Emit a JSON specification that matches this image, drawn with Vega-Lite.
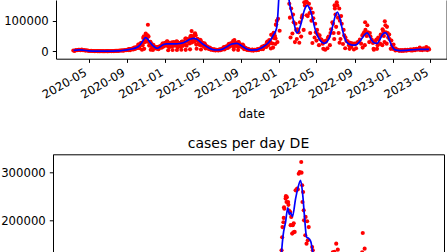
{
"$schema": "https://vega.github.io/schema/vega-lite/v6.json",
"usermeta": {"embedOptions": {"actions": false}},
"padding": 0,
"autosize": {"type": "pad"},
"background": "white",
"bounds": "flush",
"spacing": 95.3,
"config": {
  "font": "DejaVu Sans",
  "axis": {"labelFont": "DejaVu Sans", "labelFontSize": 11.7, "labelColor": "black", "tickColor": "black", "tickSize": 3.7, "tickWidth": 1, "domainColor": "black", "domainWidth": 1, "labelPadding": 4, "grid": false, "titleFont": "DejaVu Sans", "titleFontSize": 11.7, "titleFontWeight": "normal", "titleColor": "black"},
  "title": {"font": "DejaVu Sans", "fontSize": 14, "fontWeight": "normal", "color": "black"}
},
"datasets": {
"fr_daily": [
{"date":"2020-03-13","cases":2800},{"date":"2020-03-17","cases":1100},{"date":"2020-03-21","cases":3900},{"date":"2020-03-25","cases":3400},{"date":"2020-03-29","cases":4600},
{"date":"2020-04-01","cases":5200},{"date":"2020-04-05","cases":3400},{"date":"2020-04-09","cases":5600},{"date":"2020-04-13","cases":3300},{"date":"2020-04-17","cases":3700},{"date":"2020-04-21","cases":2200},{"date":"2020-04-25","cases":3300},{"date":"2020-04-29","cases":1700},
{"date":"2020-05-01","cases":1700},{"date":"2020-05-05","cases":1000},{"date":"2020-05-09","cases":1500},{"date":"2020-05-13","cases":900},{"date":"2020-05-17","cases":850},{"date":"2020-05-21","cases":500},{"date":"2020-05-25","cases":900},{"date":"2020-05-29","cases":500},
{"date":"2020-06-01","cases":600},{"date":"2020-06-05","cases":380},{"date":"2020-06-09","cases":650},{"date":"2020-06-13","cases":450},{"date":"2020-06-17","cases":520},{"date":"2020-06-21","cases":330},{"date":"2020-06-25","cases":630},{"date":"2020-06-29","cases":430},
{"date":"2020-07-01","cases":700},{"date":"2020-07-05","cases":480},{"date":"2020-07-09","cases":900},{"date":"2020-07-13","cases":700},{"date":"2020-07-17","cases":900},{"date":"2020-07-21","cases":650},{"date":"2020-07-25","cases":1500},{"date":"2020-07-29","cases":1200},
{"date":"2020-08-01","cases":1700},{"date":"2020-08-05","cases":1300},{"date":"2020-08-09","cases":2500},{"date":"2020-08-13","cases":2200},{"date":"2020-08-17","cases":2900},{"date":"2020-08-21","cases":2100},{"date":"2020-08-25","cases":4400},{"date":"2020-08-29","cases":3400},
{"date":"2020-09-01","cases":5200},{"date":"2020-09-05","cases":4000},{"date":"2020-09-09","cases":7500},{"date":"2020-09-13","cases":6500},{"date":"2020-09-17","cases":8500},{"date":"2020-09-21","cases":5800},{"date":"2020-09-25","cases":12500},{"date":"2020-09-29","cases":9800},
{"date":"2020-10-01","cases":13800},{"date":"2020-10-05","cases":10900},{"date":"2020-10-09","cases":22000},{"date":"2020-10-13","cases":19500},{"date":"2020-10-17","cases":28000},{"date":"2020-10-19","cases":5000},{"date":"2020-10-21","cases":20000},{"date":"2020-10-25","cases":49000},{"date":"2020-10-26","cases":8000},{"date":"2020-10-29","cases":37000},{"date":"2020-10-31","cases":58000},
{"date":"2020-11-01","cases":50500},{"date":"2020-11-05","cases":31000},{"date":"2020-11-07","cases":86800},{"date":"2020-11-09","cases":48000},{"date":"2020-11-13","cases":27500},{"date":"2020-11-16","cases":5000},{"date":"2020-11-17","cases":26000},{"date":"2020-11-21","cases":13000},{"date":"2020-11-23","cases":4500},{"date":"2020-11-25","cases":20000},{"date":"2020-11-29","cases":11000},
{"date":"2020-12-01","cases":13800},{"date":"2020-12-05","cases":8200},{"date":"2020-12-09","cases":13600},{"date":"2020-12-13","cases":11700},{"date":"2020-12-17","cases":16300},{"date":"2020-12-21","cases":11700},{"date":"2020-12-25","cases":26000},{"date":"2020-12-29","cases":19000},
{"date":"2021-01-01","cases":28000},{"date":"2021-01-05","cases":18000},{"date":"2021-01-09","cases":31500},{"date":"2021-01-11","cases":3600},{"date":"2021-01-13","cases":21600},{"date":"2021-01-17","cases":25500},{"date":"2021-01-21","cases":15600},{"date":"2021-01-25","cases":4200},{"date":"2021-01-29","cases":30000},{"date":"2021-01-31","cases":20400},
{"date":"2021-02-01","cases":27600},{"date":"2021-02-05","cases":18000},{"date":"2021-02-08","cases":4300},{"date":"2021-02-09","cases":31200},{"date":"2021-02-13","cases":21600},{"date":"2021-02-17","cases":26800},{"date":"2021-02-21","cases":16500},{"date":"2021-02-22","cases":4900},{"date":"2021-02-25","cases":32000},{"date":"2021-02-28","cases":22000},
{"date":"2021-03-01","cases":32200},{"date":"2021-03-05","cases":22500},{"date":"2021-03-08","cases":4800},{"date":"2021-03-09","cases":42000},{"date":"2021-03-13","cases":31500},{"date":"2021-03-17","cases":38800},{"date":"2021-03-21","cases":25400},{"date":"2021-03-22","cases":6400},{"date":"2021-03-25","cases":51000},{"date":"2021-03-27","cases":66000},{"date":"2021-03-29","cases":35700},
{"date":"2021-04-01","cases":48900},{"date":"2021-04-05","cases":31500},{"date":"2021-04-07","cases":59000},{"date":"2021-04-09","cases":52600},{"date":"2021-04-12","cases":8500},{"date":"2021-04-13","cases":35100},{"date":"2021-04-17","cases":37800},{"date":"2021-04-21","cases":21100},{"date":"2021-04-25","cases":36300},{"date":"2021-04-26","cases":6000},{"date":"2021-04-29","cases":22500},
{"date":"2021-05-01","cases":27600},{"date":"2021-05-05","cases":15400},{"date":"2021-05-09","cases":22700},{"date":"2021-05-13","cases":14000},{"date":"2021-05-17","cases":14700},{"date":"2021-05-21","cases":7500},{"date":"2021-05-25","cases":11200},{"date":"2021-05-29","cases":6000},
{"date":"2021-06-01","cases":6900},{"date":"2021-06-05","cases":3800},{"date":"2021-06-09","cases":5800},{"date":"2021-06-13","cases":3800},{"date":"2021-06-17","cases":4400},{"date":"2021-06-21","cases":2900},{"date":"2021-06-25","cases":6200},{"date":"2021-06-29","cases":4900},
{"date":"2021-07-01","cases":7500},{"date":"2021-07-05","cases":6000},{"date":"2021-07-09","cases":13600},{"date":"2021-07-13","cases":11700},{"date":"2021-07-17","cases":15800},{"date":"2021-07-21","cases":11000},{"date":"2021-07-25","cases":24400},{"date":"2021-07-29","cases":18700},
{"date":"2021-08-01","cases":27000},{"date":"2021-08-05","cases":18400},{"date":"2021-08-09","cases":5500},{"date":"2021-08-11","cases":37000},{"date":"2021-08-13","cases":23400},{"date":"2021-08-17","cases":27300},{"date":"2021-08-21","cases":16300},{"date":"2021-08-23","cases":4500},{"date":"2021-08-25","cases":29400},{"date":"2021-08-29","cases":18300},
{"date":"2021-09-01","cases":22400},{"date":"2021-09-05","cases":12700},{"date":"2021-09-09","cases":18800},{"date":"2021-09-13","cases":10800},{"date":"2021-09-17","cases":10000},{"date":"2021-09-21","cases":4500},{"date":"2021-09-25","cases":7500},{"date":"2021-09-29","cases":4200},
{"date":"2021-10-01","cases":5000},{"date":"2021-10-05","cases":3000},{"date":"2021-10-09","cases":5200},{"date":"2021-10-13","cases":3800},{"date":"2021-10-17","cases":4700},{"date":"2021-10-21","cases":3300},{"date":"2021-10-25","cases":7500},{"date":"2021-10-29","cases":5800},
{"date":"2021-11-01","cases":8600},{"date":"2021-11-05","cases":7100},{"date":"2021-11-09","cases":15600},{"date":"2021-11-13","cases":12600},{"date":"2021-11-17","cases":18400},{"date":"2021-11-21","cases":14000},{"date":"2021-11-25","cases":31900},{"date":"2021-11-29","cases":24200},
{"date":"2021-12-01","cases":36800},{"date":"2021-12-05","cases":27700},{"date":"2021-12-06","cases":9000},{"date":"2021-12-09","cases":54000},{"date":"2021-12-13","cases":12000},{"date":"2021-12-14","cases":44000},{"date":"2021-12-17","cases":60000},{"date":"2021-12-20","cases":24000},{"date":"2021-12-21","cases":42000},{"date":"2021-12-23","cases":88000},{"date":"2021-12-25","cases":100000},{"date":"2021-12-27","cases":30000},{"date":"2021-12-29","cases":106000},{"date":"2021-12-31","cases":206000},
{"date":"2022-01-01","cases":220000},{"date":"2022-01-03","cases":67000},{"date":"2022-01-05","cases":332000},{"date":"2022-01-09","cases":296000},{"date":"2022-01-13","cases":305000},{"date":"2022-01-17","cases":250000},{"date":"2022-01-21","cases":400000},{"date":"2022-01-25","cases":500000},{"date":"2022-01-29","cases":290000},
{"date":"2022-02-01","cases":200000},{"date":"2022-02-03","cases":155000},{"date":"2022-02-05","cases":110000},{"date":"2022-02-07","cases":45000},{"date":"2022-02-09","cases":140000},{"date":"2022-02-13","cases":58000},{"date":"2022-02-15","cases":120000},{"date":"2022-02-17","cases":95000},{"date":"2022-02-21","cases":30000},{"date":"2022-02-23","cases":90000},{"date":"2022-02-25","cases":70000},{"date":"2022-02-27","cases":40000},
{"date":"2022-03-01","cases":72000},{"date":"2022-03-03","cases":64000},{"date":"2022-03-05","cases":62000},{"date":"2022-03-07","cases":28000},{"date":"2022-03-09","cases":95000},{"date":"2022-03-13","cases":48000},{"date":"2022-03-15","cases":110000},{"date":"2022-03-17","cases":118000},{"date":"2022-03-21","cases":70000},{"date":"2022-03-23","cases":160000},{"date":"2022-03-25","cases":150000},{"date":"2022-03-29","cases":170000},{"date":"2022-03-31","cases":118000},
{"date":"2022-04-01","cases":160000},{"date":"2022-04-03","cases":115000},{"date":"2022-04-05","cases":180000},{"date":"2022-04-07","cases":155000},{"date":"2022-04-09","cases":125000},{"date":"2022-04-11","cases":60000},{"date":"2022-04-13","cases":140000},{"date":"2022-04-15","cases":100000},{"date":"2022-04-18","cases":27000},{"date":"2022-04-19","cases":126000},{"date":"2022-04-21","cases":108000},{"date":"2022-04-25","cases":45000},{"date":"2022-04-27","cases":90000},{"date":"2022-04-29","cases":62000},
{"date":"2022-05-01","cases":35000},{"date":"2022-05-03","cases":70000},{"date":"2022-05-05","cases":56000},{"date":"2022-05-09","cases":20000},{"date":"2022-05-11","cases":52000},{"date":"2022-05-13","cases":40000},{"date":"2022-05-17","cases":38000},{"date":"2022-05-21","cases":25000},{"date":"2022-05-23","cases":8000},{"date":"2022-05-25","cases":33000},{"date":"2022-05-29","cases":5000},{"date":"2022-05-31","cases":31000},
{"date":"2022-06-01","cases":35000},{"date":"2022-06-05","cases":10000},{"date":"2022-06-07","cases":44000},{"date":"2022-06-09","cases":48000},{"date":"2022-06-13","cases":20000},{"date":"2022-06-15","cases":60000},{"date":"2022-06-17","cases":72000},{"date":"2022-06-21","cases":95000},{"date":"2022-06-23","cases":90000},{"date":"2022-06-25","cases":60000},{"date":"2022-06-27","cases":40000},{"date":"2022-06-28","cases":150000},{"date":"2022-06-29","cases":140000},
{"date":"2022-07-01","cases":120000},{"date":"2022-07-03","cases":80000},{"date":"2022-07-05","cases":160000},{"date":"2022-07-06","cases":200000},{"date":"2022-07-07","cases":150000},{"date":"2022-07-09","cases":110000},{"date":"2022-07-11","cases":60000},{"date":"2022-07-13","cases":140000},{"date":"2022-07-14","cases":28000},{"date":"2022-07-15","cases":100000},{"date":"2022-07-17","cases":40000},{"date":"2022-07-19","cases":115000},{"date":"2022-07-21","cases":90000},{"date":"2022-07-25","cases":24000},{"date":"2022-07-27","cases":70000},{"date":"2022-07-29","cases":52000},
{"date":"2022-08-01","cases":10000},{"date":"2022-08-02","cases":45000},{"date":"2022-08-05","cases":34000},{"date":"2022-08-09","cases":33000},{"date":"2022-08-13","cases":20000},{"date":"2022-08-15","cases":8000},{"date":"2022-08-17","cases":28000},{"date":"2022-08-21","cases":14000},{"date":"2022-08-23","cases":26000},{"date":"2022-08-25","cases":23000},{"date":"2022-08-29","cases":6000},{"date":"2022-08-31","cases":25000},
{"date":"2022-09-01","cases":23000},{"date":"2022-09-05","cases":10000},{"date":"2022-09-09","cases":29000},{"date":"2022-09-13","cases":31000},{"date":"2022-09-17","cases":38000},{"date":"2022-09-21","cases":25000},{"date":"2022-09-25","cases":52000},{"date":"2022-09-26","cases":12000},{"date":"2022-09-29","cases":58000},
{"date":"2022-10-01","cases":62000},{"date":"2022-10-03","cases":20000},{"date":"2022-10-04","cases":95000},{"date":"2022-10-05","cases":70000},{"date":"2022-10-09","cases":50000},{"date":"2022-10-11","cases":85000},{"date":"2022-10-13","cases":62000},{"date":"2022-10-17","cases":30000},{"date":"2022-10-19","cases":60000},{"date":"2022-10-21","cases":48000},{"date":"2022-10-25","cases":38000},{"date":"2022-10-29","cases":27000},{"date":"2022-10-31","cases":8000},
{"date":"2022-11-01","cases":5000},{"date":"2022-11-03","cases":33000},{"date":"2022-11-05","cases":30000},{"date":"2022-11-09","cases":38000},{"date":"2022-11-11","cases":8000},{"date":"2022-11-13","cases":20000},{"date":"2022-11-15","cases":45000},{"date":"2022-11-17","cases":40000},{"date":"2022-11-21","cases":25000},{"date":"2022-11-23","cases":55000},{"date":"2022-11-25","cases":52000},{"date":"2022-11-28","cases":20000},{"date":"2022-11-29","cases":72000},
{"date":"2022-12-01","cases":65000},{"date":"2022-12-03","cases":50000},{"date":"2022-12-05","cases":30000},{"date":"2022-12-06","cases":98000},{"date":"2022-12-08","cases":85000},{"date":"2022-12-09","cases":62000},{"date":"2022-12-12","cases":25000},{"date":"2022-12-13","cases":80000},{"date":"2022-12-15","cases":60000},{"date":"2022-12-17","cases":45000},{"date":"2022-12-20","cases":55000},{"date":"2022-12-21","cases":40000},{"date":"2022-12-25","cases":8000},{"date":"2022-12-27","cases":35000},{"date":"2022-12-29","cases":20000},
{"date":"2023-01-01","cases":8000},{"date":"2023-01-03","cases":22000},{"date":"2023-01-05","cases":10000},{"date":"2023-01-09","cases":3000},{"date":"2023-01-10","cases":9000},{"date":"2023-01-13","cases":4500},{"date":"2023-01-17","cases":4800},{"date":"2023-01-21","cases":1500},{"date":"2023-01-25","cases":3800},{"date":"2023-01-29","cases":1200},
{"date":"2023-02-01","cases":4000},{"date":"2023-02-05","cases":1500},{"date":"2023-02-09","cases":4500},{"date":"2023-02-13","cases":2000},{"date":"2023-02-17","cases":4800},{"date":"2023-02-21","cases":3500},{"date":"2023-02-25","cases":6000},{"date":"2023-02-28","cases":3000},
{"date":"2023-03-01","cases":6000},{"date":"2023-03-05","cases":2500},{"date":"2023-03-09","cases":7500},{"date":"2023-03-13","cases":3500},{"date":"2023-03-17","cases":8000},{"date":"2023-03-21","cases":5500},{"date":"2023-03-25","cases":8500},{"date":"2023-03-28","cases":12000},{"date":"2023-03-29","cases":4500},
{"date":"2023-04-01","cases":8000},{"date":"2023-04-05","cases":4000},{"date":"2023-04-09","cases":9500},{"date":"2023-04-13","cases":5000},{"date":"2023-04-17","cases":8500},{"date":"2023-04-18","cases":14000},{"date":"2023-04-21","cases":4000},{"date":"2023-04-25","cases":10000},{"date":"2023-04-27","cases":6000},
{"date":"2020-09-03","cases":4700},{"date":"2020-09-07","cases":7700},{"date":"2020-09-11","cases":3700},{"date":"2020-09-15","cases":8300},{"date":"2020-09-19","cases":6900},{"date":"2020-09-23","cases":11600},{"date":"2020-09-27","cases":7600},
{"date":"2020-10-03","cases":12600},{"date":"2020-10-07","cases":21600},{"date":"2020-10-11","cases":10500},{"date":"2020-10-15","cases":26400},{"date":"2020-10-20","cases":23600},{"date":"2020-10-23","cases":43800},{"date":"2020-10-27","cases":29400},
{"date":"2020-11-03","cases":39900},{"date":"2020-11-06","cases":52600},{"date":"2020-11-11","cases":18700},{"date":"2020-11-15","cases":30800},{"date":"2020-11-19","cases":18000},{"date":"2020-11-22","cases":21600},{"date":"2020-11-27","cases":10200},
{"date":"2020-12-03","cases":10900},{"date":"2020-12-07","cases":13900},{"date":"2020-12-11","cases":6600},{"date":"2020-12-15","cases":16000},{"date":"2020-12-19","cases":13600},{"date":"2020-12-23","cases":23400},{"date":"2020-12-27","cases":15400},
{"date":"2021-01-03","cases":23300},{"date":"2021-01-07","cases":33000},{"date":"2021-01-14","cases":13500},{"date":"2021-01-15","cases":27000},{"date":"2021-01-19","cases":19600},{"date":"2021-01-23","cases":29400},{"date":"2021-01-27","cases":17200},
{"date":"2021-02-03","cases":23300},{"date":"2021-02-07","cases":33000},{"date":"2021-02-11","cases":13500},{"date":"2021-02-15","cases":27000},{"date":"2021-02-19","cases":19600},{"date":"2021-02-23","cases":30600},{"date":"2021-02-27","cases":17900},
{"date":"2021-03-03","cases":27100},{"date":"2021-03-07","cases":41900},{"date":"2021-03-11","cases":18400},{"date":"2021-03-15","cases":39000},{"date":"2021-03-19","cases":30400},{"date":"2021-03-23","cases":48000},{"date":"2021-03-28","cases":29000},
{"date":"2021-04-03","cases":40200},{"date":"2021-04-06","cases":56000},{"date":"2021-04-11","cases":21900},{"date":"2021-04-15","cases":41200},{"date":"2021-04-19","cases":27200},{"date":"2021-04-23","cases":37200},{"date":"2021-04-27","cases":19300},
{"date":"2021-05-03","cases":21900},{"date":"2021-05-07","cases":26300},{"date":"2021-05-11","cases":9400},{"date":"2021-05-15","cases":16500},{"date":"2021-05-19","cases":10000},{"date":"2021-05-23","cases":12000},{"date":"2021-05-27","cases":5600},
{"date":"2021-06-03","cases":4800},{"date":"2021-06-07","cases":6800},{"date":"2021-06-11","cases":2500},{"date":"2021-06-15","cases":4600},{"date":"2021-06-19","cases":3400},{"date":"2021-06-23","cases":5000},{"date":"2021-06-27","cases":3500},
{"date":"2021-07-03","cases":6700},{"date":"2021-07-07","cases":12200},{"date":"2021-07-11","cases":6300},{"date":"2021-07-15","cases":15400},{"date":"2021-07-19","cases":12800},{"date":"2021-07-23","cases":22200},{"date":"2021-07-27","cases":14700},
{"date":"2021-08-03","cases":23000},{"date":"2021-08-07","cases":33500},{"date":"2021-08-10","cases":13800},{"date":"2021-08-15","cases":28600},{"date":"2021-08-19","cases":20800},{"date":"2021-08-24","cases":30000},{"date":"2021-08-27","cases":16100},
{"date":"2021-09-03","cases":17600},{"date":"2021-09-07","cases":21600},{"date":"2021-09-11","cases":7200},{"date":"2021-09-15","cases":11600},{"date":"2021-09-19","cases":6400},{"date":"2021-09-23","cases":7800},{"date":"2021-09-27","cases":3900},
{"date":"2021-10-03","cases":4000},{"date":"2021-10-07","cases":5700},{"date":"2021-10-11","cases":2300},{"date":"2021-10-15","cases":4600},{"date":"2021-10-19","cases":3400},{"date":"2021-10-23","cases":6000},{"date":"2021-10-27","cases":4200},
{"date":"2021-11-03","cases":8100},{"date":"2021-11-07","cases":14200},{"date":"2021-11-11","cases":7200},{"date":"2021-11-15","cases":17600},{"date":"2021-11-19","cases":15600},{"date":"2021-11-23","cases":28200},{"date":"2021-11-27","cases":18900},
{"date":"2021-12-03","cases":33300},{"date":"2021-12-07","cases":54000},{"date":"2021-12-11","cases":25300},{"date":"2021-12-15","cases":60500},{"date":"2021-12-19","cases":49600},{"date":"2021-12-22","cases":86400}
],
"fr_trend": [
{"date":"2020-03-14","trend":3000},{"date":"2020-04-01","trend":4500},{"date":"2020-04-15","trend":3500},{"date":"2020-05-01","trend":1500},{"date":"2020-05-15","trend":800},{"date":"2020-06-01","trend":500},{"date":"2020-07-01","trend":600},{"date":"2020-08-01","trend":1500},{"date":"2020-08-15","trend":2500},{"date":"2020-09-01","trend":4500},{"date":"2020-09-15","trend":7500},{"date":"2020-10-01","trend":12000},{"date":"2020-10-10","trend":18000},{"date":"2020-10-18","trend":28000},{"date":"2020-10-24","trend":38000},{"date":"2020-10-31","trend":44500},{"date":"2020-11-07","trend":39000},{"date":"2020-11-14","trend":29000},{"date":"2020-11-21","trend":20000},{"date":"2020-12-01","trend":12000},{"date":"2020-12-08","trend":10000},{"date":"2020-12-16","trend":15000},{"date":"2020-12-27","trend":22000},
{"date":"2021-01-06","trend":24500},{"date":"2021-01-20","trend":24000},{"date":"2021-02-05","trend":24000},{"date":"2021-02-18","trend":25500},{"date":"2021-03-01","trend":28000},{"date":"2021-03-12","trend":34000},{"date":"2021-03-23","trend":40000},{"date":"2021-04-02","trend":42500},{"date":"2021-04-13","trend":39000},{"date":"2021-04-29","trend":26000},{"date":"2021-05-15","trend":15000},{"date":"2021-05-31","trend":6500},{"date":"2021-06-16","trend":4200},{"date":"2021-07-02","trend":6500},{"date":"2021-07-18","trend":15000},{"date":"2021-08-03","trend":24000},{"date":"2021-08-19","trend":26000},{"date":"2021-09-04","trend":17500},{"date":"2021-09-20","trend":7000},{"date":"2021-10-06","trend":4000},{"date":"2021-10-20","trend":4500},{"date":"2021-10-27","trend":6500},{"date":"2021-11-12","trend":15000},{"date":"2021-11-28","trend":28000},{"date":"2021-12-08","trend":42000},{"date":"2021-12-15","trend":55000},{"date":"2021-12-21","trend":66000},{"date":"2021-12-25","trend":80000},{"date":"2021-12-28","trend":115000},{"date":"2021-12-31","trend":167000},
{"date":"2022-01-04","trend":240000},{"date":"2022-01-10","trend":300000},{"date":"2022-01-17","trend":330000},{"date":"2022-01-24","trend":290000},{"date":"2022-01-29","trend":220000},{"date":"2022-02-02","trend":170000},{"date":"2022-02-07","trend":140000},{"date":"2022-02-12","trend":120000},{"date":"2022-02-17","trend":97000},{"date":"2022-02-22","trend":75000},{"date":"2022-02-27","trend":60000},{"date":"2022-03-04","trend":63000},{"date":"2022-03-09","trend":78000},{"date":"2022-03-15","trend":100000},{"date":"2022-03-20","trend":123000},{"date":"2022-03-26","trend":142000},{"date":"2022-04-02","trend":150000},{"date":"2022-04-08","trend":142000},{"date":"2022-04-15","trend":123000},{"date":"2022-04-21","trend":97000},{"date":"2022-04-26","trend":75000},{"date":"2022-05-06","trend":47000},{"date":"2022-05-17","trend":31000},{"date":"2022-05-27","trend":26000},{"date":"2022-06-05","trend":33000},{"date":"2022-06-13","trend":48000},{"date":"2022-06-19","trend":70000},{"date":"2022-06-24","trend":91000},{"date":"2022-07-01","trend":118000},{"date":"2022-07-07","trend":128000},{"date":"2022-07-15","trend":108000},{"date":"2022-07-20","trend":85000},{"date":"2022-07-26","trend":59000},{"date":"2022-08-05","trend":31000},{"date":"2022-08-15","trend":23000},{"date":"2022-08-25","trend":20000},{"date":"2022-09-05","trend":21000},{"date":"2022-09-15","trend":30000},{"date":"2022-09-25","trend":44000},{"date":"2022-10-03","trend":55000},{"date":"2022-10-10","trend":60000},{"date":"2022-10-17","trend":52000},{"date":"2022-10-25","trend":36000},{"date":"2022-11-03","trend":27000},{"date":"2022-11-11","trend":26000},{"date":"2022-11-20","trend":38000},{"date":"2022-11-28","trend":54000},{"date":"2022-12-08","trend":61000},{"date":"2022-12-15","trend":52000},{"date":"2022-12-22","trend":33000},{"date":"2022-12-30","trend":15000},
{"date":"2023-01-09","trend":4500},{"date":"2023-01-25","trend":2500},{"date":"2023-02-10","trend":3000},{"date":"2023-02-26","trend":4500},{"date":"2023-03-15","trend":5500},{"date":"2023-03-30","trend":6500},{"date":"2023-04-27","trend":6500}
],
"de_daily": [
{"date":"2020-03-20","cases":4500},{"date":"2020-04-01","cases":6000},{"date":"2020-04-15","cases":2500},{"date":"2020-05-01","cases":1200},{"date":"2020-06-01","cases":300},{"date":"2020-07-01","cases":500},{"date":"2020-08-01","cases":700},{"date":"2020-09-01","cases":1300},{"date":"2020-10-01","cases":2500},{"date":"2020-10-15","cases":7000},{"date":"2020-11-01","cases":14000},{"date":"2020-11-15","cases":16000},{"date":"2020-12-01","cases":14000},{"date":"2020-12-15","cases":30000},
{"date":"2021-01-01","cases":22000},{"date":"2021-01-15","cases":20000},{"date":"2021-02-01","cases":8000},{"date":"2021-02-15","cases":4500},{"date":"2021-03-01","cases":7000},{"date":"2021-03-15","cases":7000},{"date":"2021-04-01","cases":21000},{"date":"2021-04-15","cases":26000},{"date":"2021-05-01","cases":17000},{"date":"2021-05-15","cases":8000},{"date":"2021-06-01","cases":3000},{"date":"2021-06-15","cases":1000},{"date":"2021-07-01","cases":800},{"date":"2021-07-15","cases":1600},{"date":"2021-08-01","cases":2500},{"date":"2021-08-15","cases":5000},{"date":"2021-09-01","cases":13000},{"date":"2021-09-15","cases":12000},{"date":"2021-10-01","cases":9000},{"date":"2021-10-15","cases":12000},{"date":"2021-11-01","cases":10000},{"date":"2021-11-15","cases":32000},{"date":"2021-12-01","cases":67000},{"date":"2021-12-15","cases":51000},
{"date":"2022-01-01","cases":19000},{"date":"2022-01-05","cases":58000},{"date":"2022-01-10","cases":45000},{"date":"2022-01-12","cases":80000},{"date":"2022-01-14","cases":92000},{"date":"2022-01-16","cases":52000},{"date":"2022-01-18","cases":138000},{"date":"2022-01-19","cases":112000},{"date":"2022-01-20","cases":165000},{"date":"2022-01-21","cases":186000},{"date":"2022-01-23","cases":85000},{"date":"2022-01-24","cases":196000},{"date":"2022-01-25","cases":205000},{"date":"2022-01-26","cases":227000},{"date":"2022-01-27","cases":224000},{"date":"2022-01-30","cases":78000},{"date":"2022-01-31","cases":245000},
{"date":"2022-02-01","cases":250000},{"date":"2022-02-03","cases":238000},{"date":"2022-02-04","cases":248000},{"date":"2022-02-06","cases":95000},{"date":"2022-02-08","cases":238000},{"date":"2022-02-09","cases":232000},{"date":"2022-02-11","cases":220000},{"date":"2022-02-13","cases":88000},{"date":"2022-02-15","cases":217000},{"date":"2022-02-16","cases":190000},{"date":"2022-02-18","cases":207000},{"date":"2022-02-20","cases":70000},{"date":"2022-02-21","cases":172500},{"date":"2022-02-23","cases":190000},{"date":"2022-02-25","cases":175000},{"date":"2022-02-26","cases":194000},{"date":"2022-02-27","cases":80000},
{"date":"2022-03-01","cases":176000},{"date":"2022-03-04","cases":262000},{"date":"2022-03-06","cases":110000},{"date":"2022-03-09","cases":265600},{"date":"2022-03-11","cases":264000},{"date":"2022-03-13","cases":100000},{"date":"2022-03-14","cases":296500},{"date":"2022-03-17","cases":300000},{"date":"2022-03-20","cases":120000},{"date":"2022-03-22","cases":320700},{"date":"2022-03-23","cases":298600},{"date":"2022-03-25","cases":272500},{"date":"2022-03-26","cases":238000},{"date":"2022-03-28","cases":258600},{"date":"2022-03-30","cases":220700},{"date":"2022-03-31","cases":200000},
{"date":"2022-04-03","cases":75000},{"date":"2022-04-04","cases":169000},{"date":"2022-04-05","cases":207000},{"date":"2022-04-08","cases":151700},{"date":"2022-04-10","cases":198000},{"date":"2022-04-12","cases":158600},{"date":"2022-04-15","cases":186000},{"date":"2022-04-17","cases":60000},{"date":"2022-04-20","cases":125000},{"date":"2022-04-26","cases":144700},{"date":"2022-04-28","cases":138000},
{"date":"2022-05-01","cases":40000},{"date":"2022-05-05","cases":100000},{"date":"2022-05-15","cases":30000},{"date":"2022-06-01","cases":60000},{"date":"2022-06-15","cases":50000},{"date":"2022-06-28","cases":120000},{"date":"2022-07-01","cases":134000},{"date":"2022-07-06","cases":135000},{"date":"2022-07-12","cases":151700},{"date":"2022-07-17","cases":139300},{"date":"2022-07-20","cases":110000},{"date":"2022-08-01","cases":60000},{"date":"2022-08-15","cases":40000},{"date":"2022-09-01","cases":40000},{"date":"2022-09-15","cases":50000},{"date":"2022-10-01","cases":80000},{"date":"2022-10-03","cases":134000},{"date":"2022-10-05","cases":173700},{"date":"2022-10-11","cases":141400},{"date":"2022-10-15","cases":100000},{"date":"2022-11-01","cases":60000},{"date":"2022-11-15","cases":40000},{"date":"2022-12-01","cases":35000},{"date":"2022-12-15","cases":45000},
{"date":"2023-01-01","cases":15000},{"date":"2023-01-15","cases":20000},{"date":"2023-02-01","cases":25000},{"date":"2023-02-15","cases":20000},{"date":"2023-03-01","cases":15000},{"date":"2023-03-15","cases":15000},{"date":"2023-04-01","cases":10000},{"date":"2023-04-15","cases":5000}
],
"de_trend": [
{"date":"2020-03-15","trend":2000},{"date":"2020-04-01","trend":5500},{"date":"2020-04-20","trend":2500},{"date":"2020-05-15","trend":800},{"date":"2020-07-01","trend":400},{"date":"2020-08-15","trend":1200},{"date":"2020-09-15","trend":1800},{"date":"2020-10-15","trend":5500},{"date":"2020-11-10","trend":17000},{"date":"2020-12-20","trend":23000},{"date":"2021-01-10","trend":18000},{"date":"2021-02-15","trend":7500},{"date":"2021-03-15","trend":10000},{"date":"2021-04-15","trend":19000},{"date":"2021-05-15","trend":9000},{"date":"2021-06-20","trend":800},{"date":"2021-08-01","trend":2500},{"date":"2021-09-10","trend":10000},{"date":"2021-10-10","trend":8000},{"date":"2021-11-25","trend":55000},{"date":"2021-12-15","trend":42000},
{"date":"2022-01-01","trend":30000},{"date":"2022-01-10","trend":70000},{"date":"2022-01-15","trend":105000},{"date":"2022-01-18","trend":134000},{"date":"2022-01-23","trend":169000},{"date":"2022-01-31","trend":196500},{"date":"2022-02-07","trend":226000},{"date":"2022-02-12","trend":212000},{"date":"2022-02-16","trend":216000},{"date":"2022-02-22","trend":208000},{"date":"2022-03-04","trend":245000},{"date":"2022-03-11","trend":265600},{"date":"2022-03-20","trend":282800},{"date":"2022-03-27","trend":251700},{"date":"2022-04-02","trend":203500},{"date":"2022-04-08","trend":165400},{"date":"2022-04-16","trend":162000},{"date":"2022-04-22","trend":155000},{"date":"2022-04-28","trend":134000},{"date":"2022-05-10","trend":85000},{"date":"2022-06-01","trend":35000},{"date":"2022-07-10","trend":90000},{"date":"2022-08-10","trend":40000},{"date":"2022-09-15","trend":40000},{"date":"2022-10-10","trend":110000},{"date":"2022-11-15","trend":30000},{"date":"2022-12-15","trend":30000},{"date":"2023-01-15","trend":12000},{"date":"2023-04-25","trend":5000}
]
},
"vconcat": [
{
  "width": 393.6,
  "height": 58.7,
  "view": {"stroke": null},
  "layer": [
    {
      "data": {"name": "fr_daily"},
      "mark": {"type": "circle", "color": "#ff0000", "size": 17, "opacity": 1, "clip": true},
      "encoding": {
        "x": {"field": "date", "type": "temporal",
              "scale": {"type": "utc", "domain": [{"year":2020,"month":1,"date":17,"hours":12,"utc":true},{"year":2023,"month":6,"date":22,"utc":true}], "range": [3, 393.6]},
              "axis": {"values": [{"year":2020,"month":5,"date":1,"utc":true},{"year":2020,"month":9,"date":1,"utc":true},{"year":2021,"month":1,"date":1,"utc":true},{"year":2021,"month":5,"date":1,"utc":true},{"year":2021,"month":9,"date":1,"utc":true},{"year":2022,"month":1,"date":1,"utc":true},{"year":2022,"month":5,"date":1,"utc":true},{"year":2022,"month":9,"date":1,"utc":true},{"year":2023,"month":1,"date":1,"utc":true},{"year":2023,"month":5,"date":1,"utc":true}],
                       "format": "%Y-%m", "labelAngle": -30, "labelAlign": "right", "labelBaseline": "top", "labelOverlap": false, "labelFlush": false, "labelPadding": 4, "labelOffset": -6, "title": "date", "titlePadding": 8}},
        "y": {"field": "cases", "type": "quantitative",
              "scale": {"domain": [-24200, 167650], "nice": false, "zero": false},
              "axis": {"values": [0, 100000], "format": "d", "title": null, "offset": -3}}
      }
    },
    {
      "data": {"name": "fr_trend"},
      "mark": {"type": "line", "color": "#0000ff", "strokeWidth": 1.7, "interpolate": "monotone", "clip": true},
      "encoding": {
        "x": {"field": "date", "type": "temporal"},
        "y": {"field": "trend", "type": "quantitative", "axis": {"orient": "right", "labels": false, "ticks": false, "domain": true, "title": null}}
      }
    }
  ],
  "resolve": {"axis": {"y": "independent"}}
},
{
  "width": 391,
  "height": 169.4,
  "title": {"text": "cases per day DE", "offset": -8, "baseline": "alphabetic", "frame": "group", "anchor": "middle"},
  "view": {"stroke": "black", "strokeWidth": 1},
  "layer": [
    {
      "data": {"name": "de_daily"},
      "mark": {"type": "circle", "color": "#ff0000", "size": 17, "opacity": 1, "clip": true},
      "encoding": {
        "x": {"field": "date", "type": "temporal",
              "scale": {"type": "utc", "domain": [{"year":2020,"month":1,"date":17,"hours":12,"utc":true},{"year":2023,"month":6,"date":22,"utc":true}]},
              "axis": null},
        "y": {"field": "cases", "type": "quantitative",
              "scale": {"domain": [-14000, 336650], "nice": false, "zero": false},
              "axis": {"values": [200000, 300000], "format": "d", "title": null}}
      }
    },
    {
      "data": {"name": "de_trend"},
      "mark": {"type": "line", "color": "#0000ff", "strokeWidth": 1.7, "interpolate": "monotone", "clip": true},
      "encoding": {
        "x": {"field": "date", "type": "temporal", "axis": null},
        "y": {"field": "trend", "type": "quantitative", "axis": {"values": [200000, 300000], "format": "d", "title": null}}
      }
    }
  ]
}
]
}
